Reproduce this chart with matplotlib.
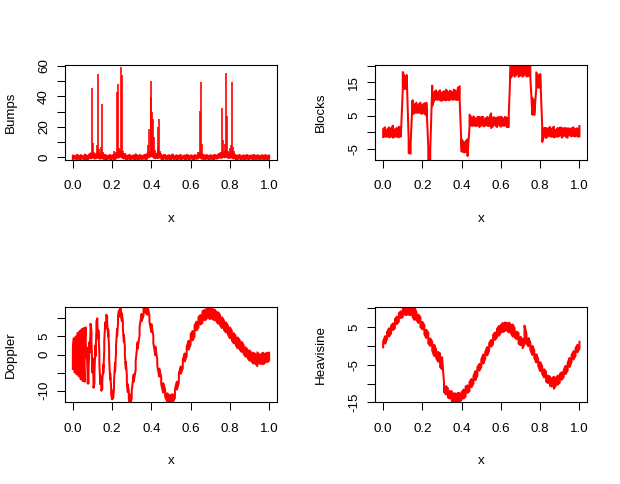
import numpy as np
import matplotlib
matplotlib.use("Agg")
import matplotlib.pyplot as plt

# Four noisy test signals (Bumps, Blocks, Doppler, Heavisine).
# Each noisy curve is kept as a band: middle of the curve and half-height of its noise.
x_grid = np.linspace(0, 1, 101)

# Bumps: baseline band plus the spikes
bumps_lo = [-1.2, -0.8, -1.5, -1.0, -1.6, -0.9, -1.3, -1.7, -1.0, -0.6,
            -0.3, -0.8, -0.5, -0.4, -0.9, -0.6, -1.2, -1.5, -0.9, -1.4,
            -1.0, -1.6, -0.7, -0.2, 0.3, 0.0, -0.8, -1.3, -1.0, -1.6,
            -0.9, -1.4, -1.1, -1.7, -1.0, -1.3, -0.8, -1.5, -0.7, 0.2,
            0.8, 0.0, -0.6, -0.5, -0.2, -1.0, -1.5, -0.9, -1.3, -1.1,
            -1.6, -0.9, -1.2, -1.5, -1.0, -1.4, -0.8, -1.6, -1.1, -1.3,
            -0.9, -1.5, -1.2, -1.0, -0.5, -0.2, -1.1, -1.4, -0.9, -1.6,
            -1.0, -1.3, -1.5, -0.9, -0.6, -0.3, -0.2, 0.0, 0.2, -0.3,
            -0.4, -0.2, -0.8, -1.2, -1.5, -0.9, -1.4, -1.1, -1.6, -1.0,
            -1.3, -0.8, -1.5, -1.2, -1.0, -1.6, -0.9, -1.4, -1.1, -1.3, -1.0]
bumps_hi = [1.2, 0.8, 1.6, 1.0, 1.4, 0.7, 1.8, 1.1, 1.3, 2.5,
            3.0, 2.5, 2.0, 2.8, 2.2, 2.5, 1.6, 1.2, 0.9, 1.5,
            1.1, 1.7, 2.2, 3.0, 4.0, 3.5, 2.0, 1.4, 1.0, 1.6,
            0.8, 1.3, 1.9, 1.0, 1.5, 0.9, 1.2, 1.7, 2.5, 3.5,
            4.0, 3.0, 2.0, 2.5, 3.0, 1.8, 1.2, 1.6, 0.9, 1.4,
            1.1, 1.8, 0.8, 1.3, 1.0, 1.5, 0.7, 1.2, 1.6, 1.0,
            1.3, 0.9, 1.4, 1.1, 2.0, 3.0, 1.8, 1.2, 1.5, 0.9,
            1.4, 1.0, 1.6, 1.2, 1.8, 2.5, 3.0, 3.5, 4.0, 3.0,
            2.5, 3.0, 2.0, 1.4, 1.0, 1.6, 0.8, 1.3, 1.1, 1.5,
            0.9, 1.2, 1.6, 1.0, 1.4, 0.8, 1.3, 1.1, 1.5, 0.9, 1.2]
bump_x = [0.097, 0.101, 0.123, 0.128, 0.134, 0.144, 0.149, 0.154,
          0.210, 0.221, 0.226, 0.231, 0.236, 0.241, 0.246, 0.251, 0.257, 0.267,
          0.385, 0.390, 0.396, 0.400, 0.405, 0.409, 0.413, 0.418,
          0.433, 0.436, 0.441, 0.446,
          0.640, 0.647, 0.652, 0.657, 0.662,
          0.754, 0.759, 0.765, 0.769, 0.774, 0.780, 0.785, 0.790,
          0.800, 0.805, 0.810, 0.815, 0.821]
bump_top = [45.5, 9.3, 7.8, 54.8, 5.2, 6.7, 35.0, 3.5,
            4.0, 3.5, 42.8, 48.3, 6.1, 5.0, 59.1, 53.7, 4.3, 3.0,
            8.0, 18.5, 39.5, 50.0, 30.0, 25.0, 13.0, 4.5,
            6.7, 19.8, 24.8, 4.0,
            3.5, 30.3, 49.3, 9.0, 2.4,
            3.5, 32.3, 11.5, 4.3, 9.0, 55.2, 27.0, 4.3,
            6.0, 7.8, 49.3, 6.7, 4.0]

# Blocks
blocks_mid = [-0.2, 0.1, -0.3, 0.0, -0.1, 0.2, -0.2, 0.0, 0.1, -0.1,
              15.5, 14.8, 15.2,
              -4.2, -4.8,
              7.6, 7.0, 7.4, 7.1, 7.3, 6.9, 7.2, 7.0,
              -6.5, -7.0,
              11.0, 10.8, 11.2, 10.9, 11.1, 10.7, 11.0, 11.2, 10.9, 11.1,
              11.0, 11.3, 11.1, 11.5, 11.6,
              -4.0, -4.5, -4.3, -4.6,
              3.5, 3.2, 3.4, 3.0, 3.3, 3.1, 3.4, 3.2, 3.0, 3.3, 3.1,
              3.5, 3.2, 3.3, 3.0, 3.4, 3.2, 3.1, 3.3, 3.0, 3.6,
              18.6, 18.8, 18.5, 18.9, 18.6, 18.7, 18.4, 18.8, 18.6, 18.5, 18.3,
              7.8, 7.2,
              15.6, 15.2, 15.5,
              -0.3, 0.1, -0.2, 0.0, 0.2, -0.1, 0.1, -0.3, 0.0, 0.2,
              -0.1, 0.1, 0.0, -0.2, 0.1, 0.0, 0.2, -0.1, 0.0, 0.3]
blocks_spread = [1.2, 1.4, 1.0, 1.5, 1.2, 1.8, 1.1, 1.3, 1.6, 1.2,
                 2.6, 1.8, 2.0,
                 2.0, 1.6,
                 2.0, 1.3, 1.5, 1.2, 1.6, 1.3, 1.5, 1.9,
                 2.0, 1.8,
                 3.0, 1.2, 1.4, 1.1, 1.5, 1.2, 1.3, 1.6, 1.2, 1.4,
                 1.1, 1.5, 1.3, 1.8, 2.2,
                 1.8, 1.5, 1.6, 2.5,
                 1.8, 1.2, 1.4, 1.1, 1.3, 1.5, 1.2, 1.4, 1.0, 1.3, 1.2,
                 2.2, 1.3, 1.1, 1.4, 1.2, 1.5, 1.1, 1.3, 1.4, 2.0,
                 2.2, 1.6, 1.8, 1.5, 1.9, 1.6, 1.7, 1.5, 1.8, 1.6, 2.0,
                 2.5, 2.0,
                 2.4, 1.8, 2.0,
                 2.6, 1.2, 1.5, 1.1, 1.4, 1.2, 1.6, 1.0, 1.3, 1.2,
                 1.5, 1.1, 1.3, 1.4, 1.0, 1.2, 1.3, 1.1, 1.2, 1.6]

# Doppler: finer steps where it oscillates fast
doppler_x = np.concatenate([np.linspace(0, 0.3, 61), np.linspace(0.31, 1.0, 70)])
doppler_mid = [-1.0, 1.0, -1.5, 1.5, -2.0, 2.0, -2.5, 2.5, -3.0, 3.0,
               -3.5, 3.5, -3.5, 5.5, 0.5, -6.5, -6.0, 2.0, 7.5, 5.0,
               -3.0, -8.0, -6.5, 1.0, 8.0, 9.0, 5.5, -1.0, -7.0, -9.0,
               -8.5, -4.0, 2.5, 8.0, 10.0, 9.5, 6.0, 0.0, -6.0, -10.0,
               -11.5, -11.0, -8.0, -3.5, 1.5, 6.0, 9.5, 11.3, 12.0, 11.7,
               10.3, 8.0, 4.5, 1.0, -3.0, -6.5, -9.3, -11.2, -12.2, -12.3,
               -11.0,
               -6.5, -3.0, 2.5, 6.5, 10.2, 12.0, 12.6, 12.2, 10.0, 7.3,
               4.2, 1.0, -2.2, -5.0, -7.2, -9.2, -10.6, -11.8, -12.4, -12.5,
               -12.0, -10.8, -8.6, -6.5, -4.3, -2.6, -0.8, 0.9, 2.6, 4.2,
               5.2, 6.5, 7.9, 8.9, 9.6, 10.3, 10.9, 11.2, 11.4, 11.5,
               11.3, 11.0, 10.6, 10.1, 9.5, 8.8, 8.1, 7.5, 6.8, 6.0,
               5.2, 4.5, 3.8, 3.2, 2.7, 2.1, 1.4, 0.7, 0.2, -0.3,
               -0.7, -1.0, -1.2, -1.3, -1.3, -1.2, -1.1, -1.0, -0.8, -0.6]
doppler_spread = [3.0, 3.5, 3.5, 3.5, 3.5, 4.0, 3.5, 4.0, 3.8, 4.0,
                  3.8, 3.8, 4.0, 2.0, 1.5, 1.5, 2.0, 1.5, 1.0, 1.5,
                  2.0, 1.2, 1.5, 1.5, 1.2, 1.0, 1.2, 1.5, 1.2, 1.0,
                  1.0, 1.2, 1.3, 0.9, 1.0, 1.1, 1.0, 1.2, 0.9, 1.0,
                  0.9, 1.1, 1.0, 1.2, 0.9, 1.0, 1.1, 0.9, 0.9, 1.0,
                  1.1, 0.9, 1.0, 1.2, 1.0, 0.9, 1.1, 1.0, 1.2, 1.0,
                  1.1,
                  1.0, 1.2, 0.9, 1.1, 1.0, 1.3, 1.0, 1.2, 0.9, 1.1,
                  1.0, 1.2, 0.9, 1.1, 1.0, 1.3, 1.0, 1.1, 1.2, 1.4,
                  1.0, 1.2, 1.1, 1.3, 1.0, 1.2, 1.1, 1.3, 1.2, 1.4,
                  1.3, 1.5, 1.2, 1.4, 1.3, 1.6, 1.4, 1.5, 1.3, 1.7,
                  1.4, 1.5, 1.3, 1.6, 1.4, 1.5, 1.3, 1.4, 1.2, 1.5,
                  1.3, 1.4, 1.2, 1.5, 1.3, 1.4, 1.2, 1.3, 1.1, 1.4,
                  1.2, 1.5, 1.3, 1.9, 1.2, 1.4, 1.6, 1.2, 1.3, 1.1]

# Heavisine
heavi_mid = [0.4, 1.6, 2.8, 3.6, 4.3, 5.1, 5.9, 6.8, 7.6, 8.3,
             8.9, 9.3, 9.5, 9.4, 9.2, 8.9, 8.5, 7.9, 7.2, 6.3,
             5.4, 4.3, 3.2, 2.1, 1.0, -0.1, -1.2, -2.1, -2.9, -3.8,
             -4.6, -11.0, -11.8, -12.5, -13.0, -13.4, -13.7, -13.9, -13.9, -13.7,
             -13.3, -12.8, -12.1, -11.5, -10.8, -9.9, -9.0, -7.9, -6.8, -5.7,
             -4.6, -3.5, -2.5, -1.4, -0.3, 0.7, 1.7, 2.6, 3.4, 4.0,
             4.6, 4.9, 5.1, 5.1, 4.9, 4.6, 4.1, 3.5, 2.8, 2.0,
             1.3, 0.6, 2.9, 2.0, 1.0, -0.1, -1.2, -2.2, -3.3, -4.4,
             -5.5, -6.4, -7.3, -8.2, -8.9, -9.4, -9.7, -9.8, -9.5, -9.1,
             -8.6, -8.0, -7.3, -6.4, -5.5, -4.4, -3.3, -2.5, -1.6, -0.7,
             0.2]
heavi_spread = [0.8, 1.0, 0.9, 1.1, 1.0, 0.9, 1.2, 1.0, 1.1, 0.9,
                1.2, 1.0, 1.3, 1.1, 1.0, 1.2, 1.6, 1.0, 1.1, 1.3,
                1.0, 1.2, 1.1, 1.4, 1.0, 1.2, 1.5, 1.1, 1.3, 1.8,
                1.6, 1.3, 1.1, 1.2, 1.0, 1.3, 1.1, 1.2, 1.4, 1.1,
                1.0, 1.2, 1.3, 1.0, 1.2, 1.1, 1.0, 1.2, 1.1, 0.9,
                1.0, 1.2, 0.9, 1.1, 1.0, 0.9, 1.2, 1.0, 1.1, 1.3,
                1.0, 1.2, 1.1, 1.0, 1.3, 1.1, 1.6, 1.2, 1.0, 1.4,
                1.1, 1.2, 2.5, 1.3, 1.1, 1.0, 1.2, 1.0, 1.1, 0.9,
                1.2, 1.0, 1.1, 1.3, 1.0, 1.2, 1.1, 1.6, 1.0, 1.2,
                1.1, 1.0, 0.9, 1.1, 1.0, 1.2, 0.9, 1.1, 1.0, 1.0,
                0.9]

x_ticks = [0.0, 0.2, 0.4, 0.6, 0.8, 1.0]
x_tick_labels = ["0.0", "0.2", "0.4", "0.6", "0.8", "1.0"]

plt.rcParams['font.family'] = ['Liberation Sans', 'DejaVu Sans']
W, H = 620, 484
fig = plt.figure(figsize=(W / 100, H / 100), dpi=100)
RED = "#FF0000"


def band(ax, x, lo, hi):
    # trace the noisy curve as a dense up/down line between the two band edges
    x = np.asarray(x, float)
    lo = np.asarray(lo, float)
    hi = np.asarray(hi, float)
    even = np.arange(len(x)) % 2 == 0
    first = np.where(even, lo, hi)
    second = np.where(even, hi, lo)
    xs = np.repeat(x, 2)
    ys = np.column_stack([first, second]).ravel()
    ax.plot(xs, ys, color=RED, lw=1.45)


def panel(left_px, bottom_px, ylim, yticks, ylabels, name):
    ax = fig.add_axes([left_px / W, 1 - bottom_px / H, 212 / W, 95 / H])
    ax.set_xlim(-0.04, 1.04)
    ax.set_ylim(*ylim)
    ax.set_xticks(x_ticks)
    ax.set_xticklabels(x_tick_labels)
    ax.set_yticks(yticks)
    ax.set_yticklabels(ylabels, rotation=90, va="center")
    ax.tick_params(direction="out", length=5.8, width=0.75, labelsize=9.6,
                   colors="black")
    ax.tick_params(axis="x", pad=8.8)
    ax.tick_params(axis="y", pad=5.0)
    for s in ax.spines.values():
        s.set_linewidth(0.8)
    cx = (left_px + 106) / W
    fig.text(cx, 1 - (bottom_px + 62) / H, "x", ha="center", va="baseline",
             fontsize=9.6)
    fig.text((left_px - 54.3) / W, 1 - (bottom_px - 47.5) / H, name,
             rotation=90, ha="center", va="center", fontsize=9.6)
    return ax


ax1 = panel(65, 160, (-1.77, 60.46), [0, 10, 20, 30, 40, 50, 60],
            ["0", "", "20", "", "40", "", "60"], "Bumps")
band(ax1, x_grid, bumps_lo, bumps_hi)
ax1.vlines(bump_x, 0, bump_top, color=RED, lw=1.2)

ax2 = panel(375.3, 160, (-8.3, 20.2), [-5, 0, 5, 10, 15, 20],
            ["-5", "", "5", "", "15", ""], "Blocks")
b_mid = np.array(blocks_mid)
b_sp = np.array(blocks_spread)
band(ax2, x_grid, b_mid - b_sp, b_mid + b_sp)

ax3 = panel(65, 402.3, (-13.2, 13.05), [-10, -5, 0, 5, 10],
            ["-10", "", "0", "5", ""], "Doppler")
d_mid = np.array(doppler_mid)
d_sp = np.array(doppler_spread)
band(ax3, doppler_x, d_mid - d_sp, d_mid + d_sp)

ax4 = panel(375.3, 402.3, (-15.0, 10.27), [-15, -10, -5, 0, 5, 10],
            ["-15", "", "-5", "", "5", ""], "Heavisine")
h_mid = np.array(heavi_mid)
h_sp = np.array(heavi_spread)
band(ax4, x_grid, h_mid - h_sp, h_mid + h_sp)

fig.savefig("out.png", dpi=100)
